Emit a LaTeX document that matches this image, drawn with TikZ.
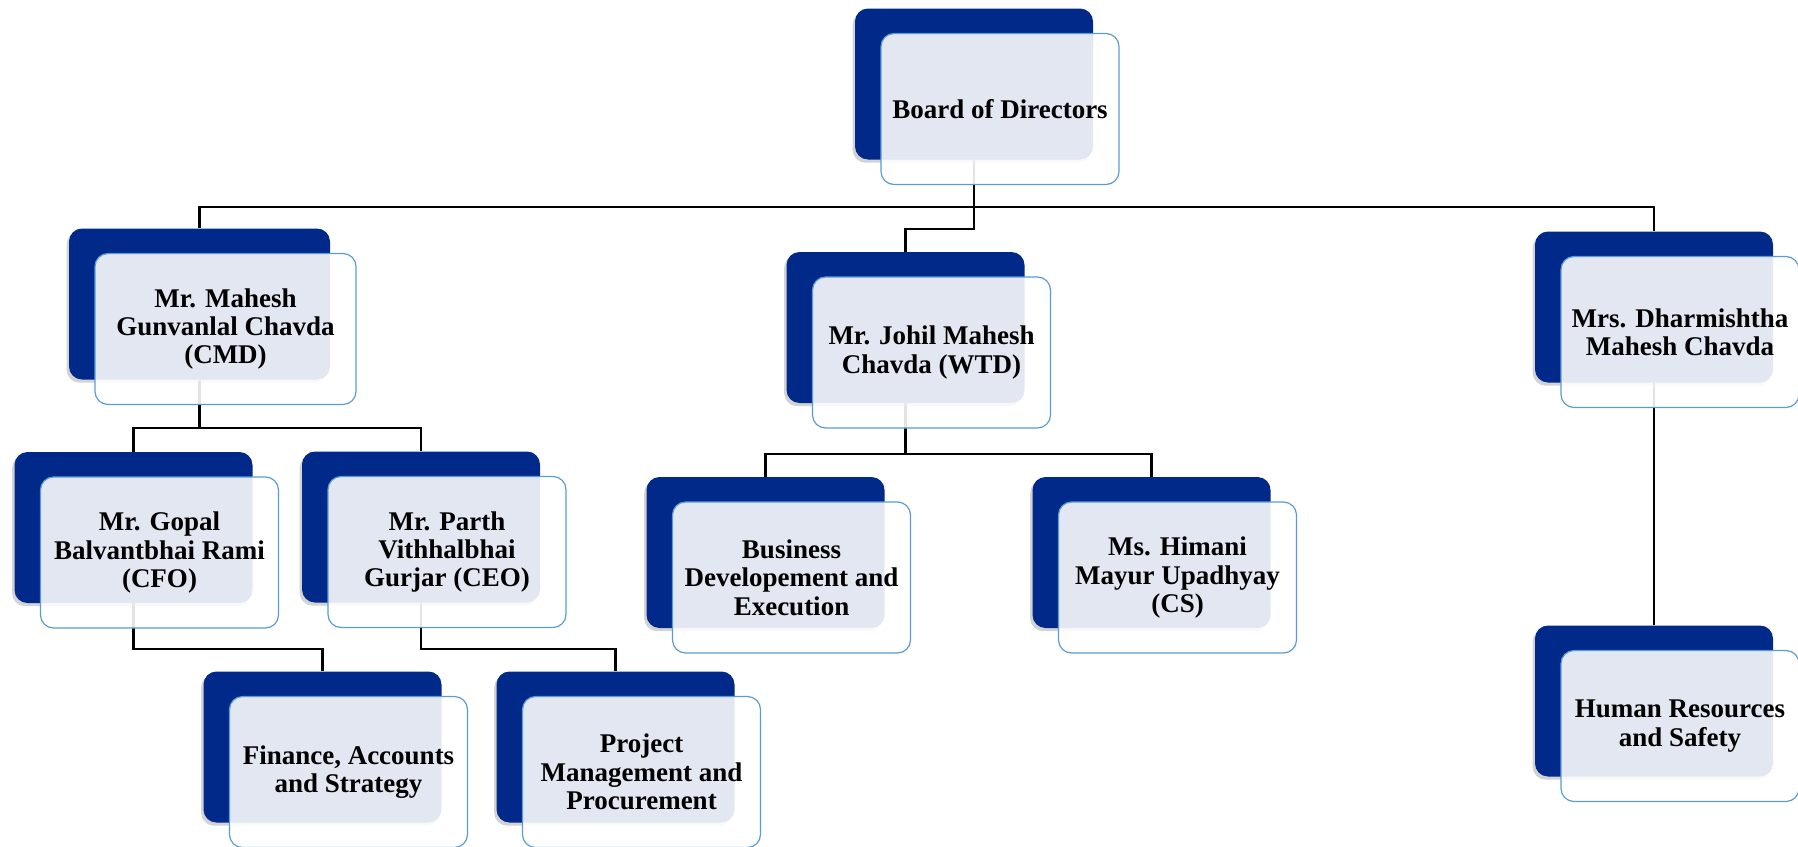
\documentclass[tikz,border=0pt]{standalone}
\usepackage{fontspec}
\setmainfont{Liberation Serif}
\usetikzlibrary{shadows,backgrounds}
\definecolor{orgblue}{RGB}{0,41,138}
\definecolor{orgedge}{RGB}{91,155,213}

\tikzset{
  backbox/.style={rectangle, rounded corners=6.5pt, fill=orgblue, minimum width=119pt, minimum height=75.5pt, inner sep=0pt,
    drop shadow={shadow xshift=-1.2pt, shadow yshift=-1.6pt, opacity=0.35}},
  frontbox/.style={rectangle, rounded corners=6.5pt, draw=orgedge, line width=0.6pt, fill=white, fill opacity=0.89, text opacity=1,
    minimum width=119pt, minimum height=75.5pt, inner sep=2pt, align=center, font=\bfseries\fontsize{13.5}{14.2}\selectfont},
  wide/.style={minimum width=130.5pt},
  link/.style={line width=1.3pt, black},
}

\begin{document}
\begin{tikzpicture}[x=0.5pt, y=-0.5pt]
    \useasboundingbox (0,0) rectangle (1798,846);
    % board
    \node [backbox] (bod) at (974,84) {};
    \node [frontbox] (bodf) at ([shift={(26,25)}]bod.center) {Board of Directors};
    % first level
    \node [backbox, wide] (cmd) at (199.5,304) {};
    \node [frontbox, wide] (cmdf) at ([shift={(26,25)}]cmd.center) {Mr. Mahesh\\Gunvanlal Chavda\\(CMD)};
    \node [backbox] (wtd) at (905.5,327.5) {};
    \node [frontbox] (wtdf) at ([shift={(26,25)}]wtd.center) {Mr. Johil Mahesh\\Chavda (WTD)};
    \node [backbox] (dmc) at (1654,307) {};
    \node [frontbox] (dmcf) at ([shift={(26,25)}]dmc.center) {Mrs. Dharmishtha\\Mahesh Chavda};
    % second level
    \node [backbox] (cfo) at (133.5,527.5) {};
    \node [frontbox] (cfof) at ([shift={(26,25)}]cfo.center) {Mr. Gopal\\Balvantbhai Rami\\(CFO)};
    \node [backbox] (ceo) at (421,527) {};
    \node [frontbox] (ceof) at ([shift={(26,25)}]ceo.center) {Mr. Parth\\Vithhalbhai\\Gurjar (CEO)};
    \node [backbox] (bde) at (765.5,552.5) {};
    \node [frontbox] (bdef) at ([shift={(26,25)}]bde.center) {Business\\Developement and\\Execution};
    \node [backbox] (cs) at (1151.5,552.5) {};
    \node [frontbox] (csf) at ([shift={(26,25)}]cs.center) {Ms. Himani\\Mayur Upadhyay\\(CS)};
    \node [backbox] (hr) at (1654,701) {};
    \node [frontbox] (hrf) at ([shift={(26,25)}]hr.center) {Human Resources\\and Safety};
    % third level
    \node [backbox] (fas) at (322.5,747) {};
    \node [frontbox] (fasf) at ([shift={(26,25)}]fas.center) {Finance, Accounts\\and Strategy};
    \node [backbox] (pmp) at (615.5,747) {};
    \node [frontbox] (pmpf) at ([shift={(26,25)}]pmp.center) {Project\\Management and\\Procurement};
    % connectors
    \coordinate (bodbus) at (974,207);
    \coordinate (wtdbus) at (974,229);
    \coordinate (cmdbus) at (199.5,428);
    \coordinate (wtdkids) at (905.5,454);
    \coordinate (cfobus) at (133.5,649);
    \coordinate (ceobus) at (421,649);
    \begin{scope}[on background layer]
    \draw [link] (bod.south) -- (wtdbus) -| (wtd.north);
    \draw [link] (bodbus) -| (cmd.north);
    \draw [link] (bodbus) -| (dmc.north);
    \draw [link] (cmd.south) -- (cmdbus) -| (cfo.north);
    \draw [link] (cmdbus) -| (ceo.north);
    \draw [link] (wtd.south) -- (wtdkids) -| (bde.north);
    \draw [link] (wtdkids) -| (cs.north);
    \draw [link] (dmc.south) -- (hr.north);
    \draw [link] (cfo.south) -- (cfobus) -| (fas.north);
    \draw [link] (ceo.south) -- (ceobus) -| (pmp.north);
    \end{scope}
\end{tikzpicture}
\end{document}
